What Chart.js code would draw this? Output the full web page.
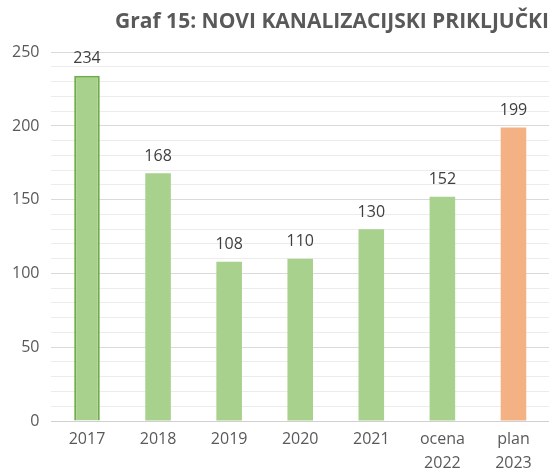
<!DOCTYPE html>
<html>
<head>
<meta charset="utf-8">
<script src="https://cdn.jsdelivr.net/npm/chart.js@4"></script>
<style>
  html, body { margin: 0; padding: 0; background: #fff; }
  #wrap { width: 559px; height: 475px; }
</style>
</head>
<body>
<div id="wrap"><canvas id="grafChart" width="559" height="475"></canvas></div>
<script>
var categories = [["2017"], ["2018"], ["2019"], ["2020"], ["2021"], ["ocena", "2022"], ["plan", "2023"]];
var priklucki = [234, 168, 108, 110, 130, 152, 199];
var barColors = ['#a9d18e', '#a9d18e', '#a9d18e', '#a9d18e', '#a9d18e', '#a9d18e', '#f4b183'];
var borderColors = ['#70ad47', '#a9d18e', '#a9d18e', '#a9d18e', '#a9d18e', '#a9d18e', '#f4b183'];
var yTicks = [0, 50, 100, 150, 200, 250];

// draws the value above every bar
var valueLabels = {
    id: 'valueLabels',
    afterDatasetsDraw: function (chart) {
        var ctx = chart.ctx;
        var meta = chart.getDatasetMeta(0);
        ctx.save();
        ctx.font = '16px "Open Sans", sans-serif';
        ctx.fillStyle = '#404040';
        ctx.textAlign = 'center';
        ctx.textBaseline = 'bottom';
        meta.data.forEach(function (bar, i) {
            ctx.fillText(priklucki[i], bar.x, bar.y - 9);
        });
        ctx.restore();
    }
};

document.addEventListener("DOMContentLoaded", function () {
    var ctx = document.getElementById('grafChart').getContext('2d');
    new Chart(ctx, {
        type: 'bar',
        data: {
            labels: categories,
            datasets: [{
                data: priklucki,
                backgroundColor: barColors,
                borderColor: borderColors,
                borderWidth: [2, 0, 0, 0, 0, 0, 0],
                barPercentage: 0.36,
                categoryPercentage: 1.0
            }]
        },
        options: {
            responsive: false,
            animation: false,
            layout: { padding: { left: 0, right: 10, top: 0, bottom: -6 } },
            scales: {
                x: {
                    grid: { display: false, drawTicks: false },
                    border: { display: false },
                    ticks: {
                        color: '#595959',
                        font: { family: 'Open Sans', size: 16, lineHeight: 1.5 },
                        padding: 6
                    }
                },
                y: {
                    min: 0,
                    max: 250,
                    border: { display: false },
                    grid: {
                        drawTicks: false,
                        color: function (c) {
                            if (c.tick.value === 0) return '#d0d0d0';
                            return c.tick.value % 50 === 0 ? '#dadada' : '#ececec';
                        }
                    },
                    ticks: {
                        stepSize: 10,
                        autoSkip: false,
                        padding: 12,
                        color: '#595959',
                        font: { family: 'Open Sans', size: 16 },
                        callback: function (v) {
                            return yTicks.indexOf(v) >= 0 ? v : '';
                        }
                    }
                }
            },
            plugins: {
                legend: { display: false },
                tooltip: { enabled: false },
                title: {
                    display: true,
                    text: 'Graf 15: NOVI KANALIZACIJSKI PRIKLJUČKI',
                    align: 'end',
                    color: '#595959',
                    font: { family: 'Open Sans', size: 21, weight: 'bold' },
                    padding: { top: 9, bottom: 18 }
                }
            }
        },
        plugins: [valueLabels]
    });
});
</script>
</body>
</html>
